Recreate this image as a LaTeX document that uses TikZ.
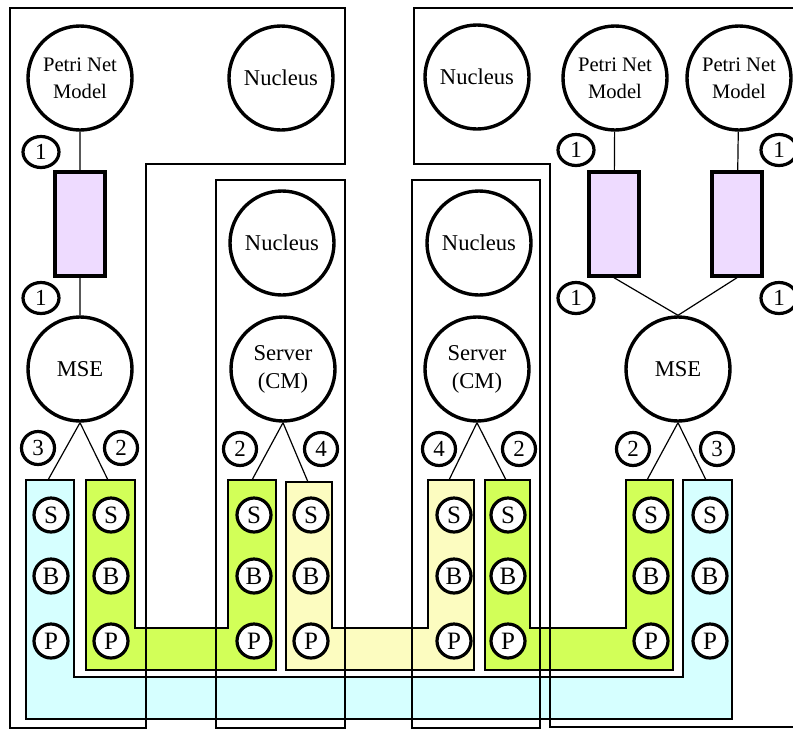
\documentclass[tikz,border=0pt]{standalone}
\usepackage{fontspec}
\setmainfont{Liberation Serif}
\usepackage{xcolor}
\usetikzlibrary{positioning, shapes.geometric}

\definecolor{lilac}{RGB}{238,219,255}
\definecolor{lime}{RGB}{210,255,88}
\definecolor{paleyellow}{RGB}{252,252,192}
\definecolor{palecyan}{RGB}{214,255,255}

\begin{document}
\begin{tikzpicture}[x=0.5pt, y=-0.5pt,
        big/.style={circle, draw, line width=1.7pt, fill=white, minimum size=52pt, inner sep=0pt, align=center, font=\fontsize{11.3}{14}\selectfont},
        petri/.style={big, font=\fontsize{10.3}{13.5}\selectfont},
        tag/.style={circle, draw, line width=1.6pt, fill=white, minimum size=16.5pt, inner sep=0pt, font=\fontsize{11.5}{12}\selectfont},
        onetag/.style={tag, ellipse, minimum width=18pt, minimum height=15.5pt},
        sbp/.style={tag, minimum size=17pt, font=\fontsize{12.5}{13}\selectfont},
        adapter/.style={draw, line width=1.7pt, fill=lilac, minimum width=25pt, minimum height=52pt, inner sep=0pt},
        region/.style={line width=0.6pt},
        bar/.style={draw, line width=0.6pt},
        wire/.style={line width=0.6pt}]
        \useasboundingbox (0,0) rectangle (793,729);
        \clip (0,0) rectangle (793,729);

        % coloured bus bars
        \draw[bar, fill=palecyan] (26,480) -- (74,480) -- (74,677) -- (683,677) -- (683,480)
            -- (732,480) -- (732,719) -- (26,719) -- cycle;
        \draw[bar, fill=lime] (86,480) -- (135,480) -- (135,628) -- (228,628) -- (228,480)
            -- (276,480) -- (276,670) -- (86,670) -- cycle;
        \draw[bar, fill=paleyellow] (286,482) -- (332,482) -- (332,628) -- (428,628) -- (428,480)
            -- (474,480) -- (474,670) -- (286,670) -- cycle;
        \draw[bar, fill=lime] (485,480) -- (530,480) -- (530,628) -- (626,628) -- (626,480)
            -- (673,480) -- (673,670) -- (485,670) -- cycle;

        % machine regions
        \draw[region] (10,8) -- (345,8) -- (345,164) -- (146,164) -- (146,728) -- (10,728) -- cycle;
        \draw[region] (216,180) rectangle (345,728);
        \draw[region] (412,180) rectangle (540,728);
        \draw[region] (793,8) -- (414,8) -- (414,164) -- (550,164) -- (550,727) -- (793,727);

        \node[petri] at (80,78) (pnA) {Petri Net\\Model};
        \node[big] at (281,78) (nucA) {Nucleus};
        \node[big] at (282,243) (nucB) {Nucleus};
        \node[big] at (477,77) (nucC) {Nucleus};
        \node[big] at (479,243) (nucD) {Nucleus};
        \node[petri] at (615,78) (pnB) {Petri Net\\Model};
        \node[petri] at (739,78) (pnC) {Petri Net\\Model};

        \node[adapter] at (80,224) (adA) {};
        \node[adapter] at (614,224) (adB) {};
        \node[adapter] at (737,224) (adC) {};

        \node[big] at (80,369) (mseA) {MSE};
        \node[big] at (283,369) (srvA) {Server\\(CM)};
        \node[big] at (477,369) (srvB) {Server\\(CM)};
        \node[big] at (678,369) (mseB) {MSE};

        \coordinate (cyA) at (48,480);
        \coordinate (grA) at (108,480);
        \coordinate (grB) at (252,480);
        \coordinate (ylA) at (308,482);
        \coordinate (ylB) at (449,480);
        \coordinate (grC) at (506,480);
        \coordinate (grD) at (647,480);
        \coordinate (cyB) at (706,480);

        \draw[wire] (pnA) to (adA)
            (adA) to (mseA)
            (pnB) to (adB)
            (pnC) to (adC)
            (adB.south) to (mseB.north)
            (adC.south) to (mseB.north)
            (mseA.south) to (cyA)
            (mseA.south) to (grA)
            (srvA.south) to (grB)
            (srvA.south) to (ylA)
            (srvB.south) to (ylB)
            (srvB.south) to (grC)
            (mseB.south) to (grD)
            (mseB.south) to (cyB);

        \node[onetag] at (41,152) (oneA) {1};
        \node[onetag] at (41,298) (oneB) {1};
        \node[onetag] at (576,150) (oneC) {1};
        \node[onetag] at (576,298) (oneD) {1};
        \node[onetag] at (779,150) (oneE) {1};
        \node[onetag] at (779,298) (oneF) {1};

        \node[tag] at (38,448) (chA) {3};
        \node[tag] at (121,448) (chB) {2};
        \node[tag] at (240,449) (chC) {2};
        \node[tag] at (321,449) (chD) {4};
        \node[tag] at (439,449) (chE) {4};
        \node[tag] at (519,449) (chF) {2};
        \node[tag] at (633,449) (chG) {2};
        \node[tag] at (717,449) (chH) {3};

        \foreach \col [count=\c] in {51,111,254,311,454,508,651,710} {
            \node[sbp] at (\col,515) (s\c) {S};
            \node[sbp] at (\col,576) (b\c) {B};
            \node[sbp] at (\col,641) (p\c) {P};
        }
    \end{tikzpicture}
\end{document}
